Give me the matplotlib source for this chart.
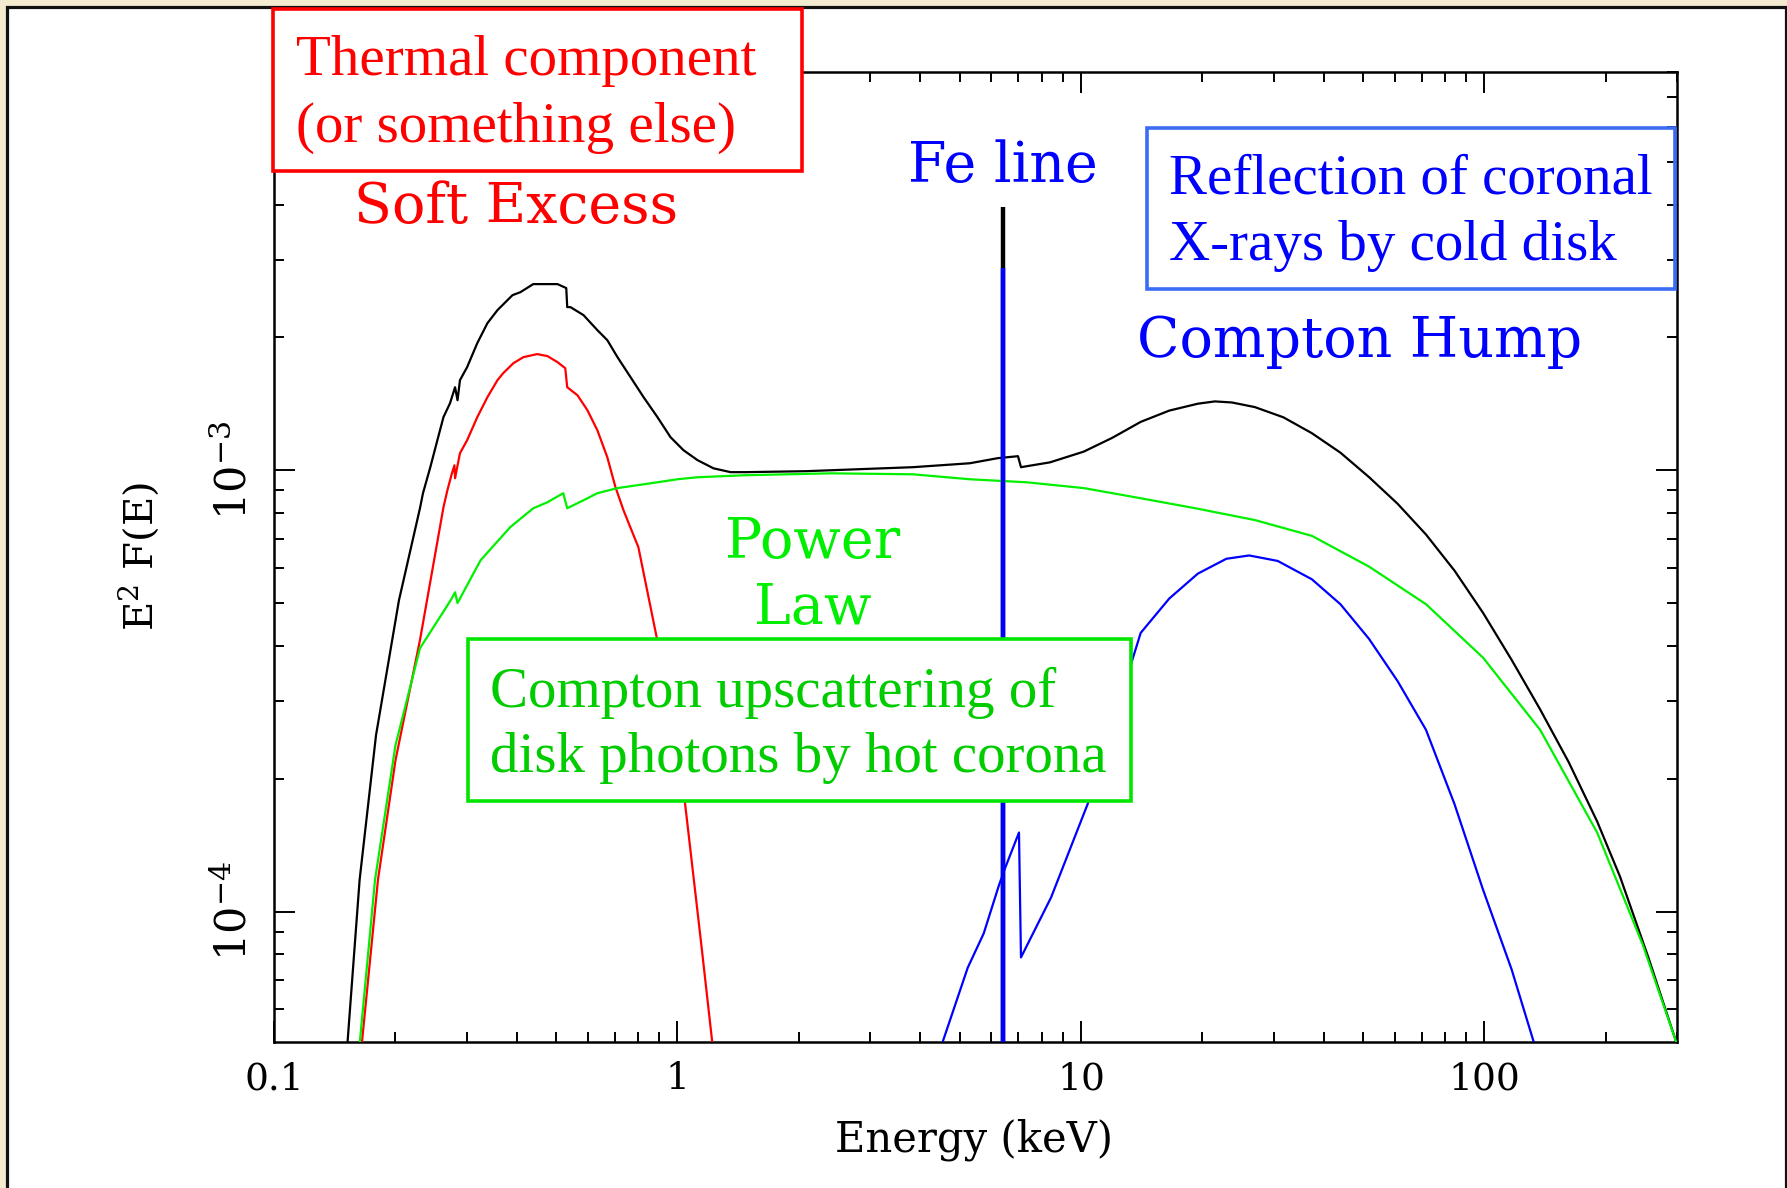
import matplotlib
matplotlib.use("Agg")
import matplotlib.pyplot as plt
from matplotlib.patches import Rectangle
from matplotlib.ticker import LogLocator, NullFormatter
from matplotlib.transforms import ScaledTranslation

W, H, DPI = 1787, 1188, 100

# ---- model spectrum components (E in keV, E^2 F(E)) ----
total_energy = [0.152, 0.163, 0.179, 0.204, 0.230, 0.234, 0.244, 0.254, 0.263, 0.273,
                0.281, 0.285, 0.289, 0.301, 0.319, 0.338, 0.358, 0.390, 0.408, 0.439,
                0.504, 0.530, 0.533, 0.543, 0.585, 0.633, 0.670, 0.710, 0.765, 0.824,
                0.892, 0.961, 1.035, 1.121, 1.228, 1.354, 1.475, 2.08, 3.83, 5.30,
                6.22, 6.98, 7.10, 8.38, 10.16, 11.95, 14.06, 16.55, 19.48, 21.47,
                23.67, 26.98, 31.74, 37.35, 43.95, 51.72, 60.87, 71.63, 84.3, 99.2,
                116.7, 137.4, 161.7, 190.2, 216.7, 255, 300]
total_flux = [5.0e-5, 1.18e-4, 2.51e-4, 5.07e-4, 8.20e-4, 8.87e-4, 1.016e-3, 1.169e-3, 1.319e-3, 1.418e-3,
              1.542e-3, 1.441e-3, 1.600e-3, 1.712e-3, 1.941e-3, 2.154e-3, 2.306e-3, 2.493e-3, 2.532e-3, 2.641e-3,
              2.641e-3, 2.587e-3, 2.342e-3, 2.342e-3, 2.246e-3, 2.077e-3, 1.971e-3, 1.804e-3, 1.625e-3, 1.464e-3,
              1.319e-3, 1.188e-3, 1.110e-3, 1.054e-3, 1.010e-3, 9.90e-4, 9.90e-4, 9.95e-4, 1.016e-3, 1.037e-3,
              1.065e-3, 1.076e-3, 1.016e-3, 1.042e-3, 1.102e-3, 1.184e-3, 1.287e-3, 1.365e-3, 1.415e-3, 1.432e-3,
              1.424e-3, 1.390e-3, 1.318e-3, 1.213e-3, 1.096e-3, 9.65e-4, 8.40e-4, 7.15e-4, 5.92e-4, 4.75e-4,
              3.72e-4, 2.87e-4, 2.18e-4, 1.60e-4, 1.20e-4, 7.85e-5, 5.0e-5]

soft_energy = [0.165, 0.181, 0.200, 0.230, 0.263, 0.269, 0.276, 0.280, 0.281, 0.289,
               0.301, 0.319, 0.338, 0.358, 0.370, 0.392, 0.415, 0.449, 0.476, 0.504,
               0.527, 0.533, 0.565, 0.598, 0.633, 0.670, 0.702, 0.735, 0.800, 0.913,
               1.041, 1.147, 1.221]
soft_flux = [5.0e-5, 1.18e-4, 2.20e-4, 4.12e-4, 8.24e-4, 9.01e-4, 9.84e-4, 1.026e-3, 9.59e-4, 1.093e-3,
             1.169e-3, 1.319e-3, 1.464e-3, 1.600e-3, 1.660e-3, 1.748e-3, 1.804e-3, 1.833e-3, 1.814e-3, 1.758e-3,
             1.703e-3, 1.542e-3, 1.479e-3, 1.368e-3, 1.232e-3, 1.070e-3, 9.15e-4, 8.11e-4, 6.69e-4, 3.69e-4,
             1.80e-4, 8.33e-5, 5.0e-5]

powerlaw_energy = [0.163, 0.178, 0.200, 0.230, 0.266, 0.276, 0.281, 0.285, 0.325, 0.385,
                   0.439, 0.476, 0.521, 0.533, 0.585, 0.633, 0.710, 0.857, 1.00, 1.121,
                   1.458, 2.40, 3.83, 5.30, 7.33, 10.16, 14.06, 19.48, 26.98, 37.35,
                   51.72, 71.63, 99.2, 137.4, 190.2, 246.9, 300]
powerlaw_flux = [5.0e-5, 1.18e-4, 2.38e-4, 3.95e-4, 4.86e-4, 5.13e-4, 5.29e-4, 5.00e-4, 6.25e-4, 7.43e-4,
                 8.20e-4, 8.46e-4, 8.87e-4, 8.20e-4, 8.55e-4, 8.87e-4, 9.11e-4, 9.34e-4, 9.54e-4, 9.64e-4,
                 9.74e-4, 9.84e-4, 9.79e-4, 9.54e-4, 9.39e-4, 9.11e-4, 8.64e-4, 8.18e-4, 7.71e-4, 7.10e-4,
                 6.05e-4, 4.97e-4, 3.76e-4, 2.58e-4, 1.51e-4, 8.40e-5, 5.0e-5]

reflection_energy = [4.52, 5.24, 5.74, 6.26, 6.48, 7.02, 7.10, 8.43, 10.4, 14.06,
                     16.55, 19.48, 22.92, 26.11, 30.72, 37.35, 43.95, 51.72, 60.87, 71.63,
                     84.3, 99.2, 116.7, 133]
reflection_flux = [5.0e-5, 7.46e-5, 8.92e-5, 1.146e-4, 1.252e-4, 1.510e-4, 7.87e-5, 1.076e-4, 1.757e-4, 4.28e-4,
                   5.12e-4, 5.83e-4, 6.30e-4, 6.41e-4, 6.23e-4, 5.66e-4, 4.97e-4, 4.15e-4, 3.33e-4, 2.58e-4,
                   1.75e-4, 1.12e-4, 7.40e-5, 5.0e-5]

fe_line_energy = 6.4
fe_line_total_peak = 3.95e-3
fe_line_reflection_peak = 2.87e-3

x_limits = (0.1, 300)
y_limits = (5.07e-5, 8.0e-3)
x_ticks = [0.1, 1, 10, 100]
x_tick_labels = ["0.1", "1", "10", "100"]
y_ticks = [1e-4, 1e-3]
y_tick_labels = [r"$\mathregular{10^{-4}}$", r"$\mathregular{10^{-3}}$"]

PG_FONT = "DejaVu Serif"
NOTE_FONT = "Liberation Serif"
RED, GREEN, BLUE = "#ff0000", "#00ee00", "#0000ff"

fig = plt.figure(figsize=(W / DPI, H / DPI), dpi=DPI, facecolor="#f4ead0")


def fx(px):
    return px / W


def fy(py):
    return 1 - py / H


# white slide panel with a dark frame
fig.add_artist(Rectangle((fx(7), -0.05), fx(1785.5) - fx(7), fy(6.5) + 0.05,
                         transform=fig.transFigure, facecolor="white",
                         edgecolor="#111111", linewidth=2.3, zorder=-10))

ax = fig.add_axes([fx(274), fy(1041.7), fx(1677) - fx(274), fy(71.7) - fy(1041.7)])
ax.set_facecolor("none")
ax.set_xscale("log")
ax.set_yscale("log")
ax.set_xlim(*x_limits)
ax.set_ylim(*y_limits)

ax.plot(total_energy, total_flux, color="black", lw=1.6, zorder=3)
ax.vlines(fe_line_energy, y_limits[0], fe_line_total_peak, color="black", lw=3.2, zorder=3)
ax.plot(soft_energy, soft_flux, color=RED, lw=1.6, zorder=4)
ax.plot(powerlaw_energy, powerlaw_flux, color="#00f000", lw=1.6, zorder=4)
ax.plot(reflection_energy, reflection_flux, color=BLUE, lw=1.6, zorder=4)
ax.vlines(fe_line_energy, y_limits[0], fe_line_reflection_peak, color=BLUE, lw=3.2, zorder=5)

for s in ax.spines.values():
    s.set_linewidth(1.8)
ax.xaxis.set_minor_locator(LogLocator(base=10, subs=range(2, 10), numticks=50))
ax.yaxis.set_minor_locator(LogLocator(base=10, subs=range(2, 10), numticks=50))
ax.xaxis.set_minor_formatter(NullFormatter())
ax.yaxis.set_minor_formatter(NullFormatter())
ax.set_xticks(x_ticks)
ax.set_xticklabels(x_tick_labels, fontfamily=PG_FONT, fontsize=27)
ax.set_yticks(y_ticks)
ax.set_yticklabels(y_tick_labels, fontfamily=PG_FONT, fontsize=31, rotation=90, va="center")
for lab in ax.get_yticklabels():
    lab.set_transform(lab.get_transform() + ScaledTranslation(0, 0.07, fig.dpi_scale_trans))
ax.tick_params(which="both", direction="in", top=True, right=True, width=1.4, colors="black")
ax.tick_params(which="major", length=15)
ax.tick_params(which="minor", length=7.5)
ax.tick_params(axis="x", which="major", pad=14)
ax.tick_params(axis="y", which="major", pad=13)

# axis titles
fig.text(fx(974), fy(1140), "Energy (keV)", fontfamily=PG_FONT, fontsize=30,
         ha="center", va="center")
fig.text(fx(139), fy(556), r"$\mathregular{E^2\ F(E)}$", fontfamily=PG_FONT, fontsize=29,
         rotation=90, ha="center", va="center")

# component labels
fig.text(fx(516), fy(223), "Soft Excess", fontfamily=PG_FONT, fontsize=40, color=RED,
         ha="center", va="baseline")
fig.text(fx(1003), fy(182), "Fe line", fontfamily=PG_FONT, fontsize=40, color=BLUE,
         ha="center", va="baseline")
fig.text(fx(1360), fy(357), "Compton Hump", fontfamily=PG_FONT, fontsize=40, color=BLUE,
         ha="center", va="baseline")
fig.text(fx(813), fy(558), "Power", fontfamily=PG_FONT, fontsize=40, color=GREEN,
         ha="center", va="baseline")
fig.text(fx(813), fy(624), "Law", fontfamily=PG_FONT, fontsize=40, color=GREEN,
         ha="center", va="baseline")


def note_box(x0, y0, x1, y1, edge, fill):
    fig.add_artist(Rectangle((fx(x0), fy(y1)), fx(x1) - fx(x0), fy(y0) - fy(y1),
                             transform=fig.transFigure, facecolor=fill,
                             edgecolor=edge, linewidth=2.6, zorder=6))


def note_line(x, y, s, color):
    fig.text(fx(x), fy(y), s, fontfamily=NOTE_FONT, fontsize=41, color=color,
             ha="left", va="baseline", zorder=7)


note_box(273, 9, 802, 171, "#ff0000", "white")
note_line(296, 75, "Thermal component", RED)
note_line(296, 142, "(or something else)", RED)

note_box(1147, 128, 1675, 289, "#3a6cf6", "none")
note_line(1169, 193, "Reflection of coronal", BLUE)
note_line(1169, 260, "X-rays by cold disk", BLUE)

note_box(468, 639, 1131, 801, "#00e600", "white")
note_line(490, 707, "Compton upscattering of", "#00cc00")
note_line(490, 772, "disk photons by hot corona", "#00cc00")

fig.savefig("out.png", dpi=DPI, facecolor=fig.get_facecolor())
